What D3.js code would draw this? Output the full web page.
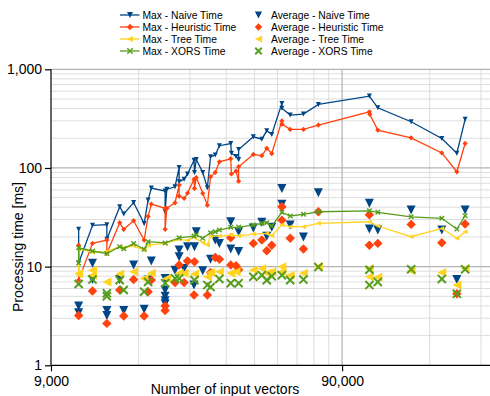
<!DOCTYPE html>
<html>
<head>
<meta charset="utf-8">
<script src="https://cdn.jsdelivr.net/npm/d3@7"></script>
<style>
body { margin: 0; background: #fff; }
text { font-family: "Liberation Sans", Arial, sans-serif; }
</style>
</head>
<body>
<script>
const W = 490, H = 396;
const margin = { top: 69.3, right: 0, bottom: 30.7, left: 51 };

const NAIVE = '#004586';
const HEUR = '#ff420e';
const TREE = '#ffd320';
const XORS = '#579d1c';

// [number of input vectors, processing time ms]
const maxNaive = [[11200,23.9],[11200,10.9],[12500,26.2],[14000,26.6],[14000,18.9],[15500,40.4],[16000,34.2],[17300,44.6],[18800,27.3],[19400,47.3],[19900,62.5],[22200,58.3],[22200,36],[22500,61],[24000,64.5],[24800,101],[24800,72.5],[25800,77],[26500,87],[27900,120],[28000,90],[28400,122],[29900,90],[31000,63],[31800,130],[33000,135],[34100,168],[37300,177],[37500,141],[38900,131],[39700,122],[39700,154],[44600,207],[47700,196],[49600,238],[51600,219],[55900,451],[55900,404],[59700,344],[66300,352],[74600,440],[111700,535],[119400,407],[155400,294],[198100,199],[223100,141],[238200,311]];
const maxHeur = [[11200,16.5],[11200,7.3],[12500,17.2],[14000,18.6],[14000,13.6],[15500,27.9],[16000,23.9],[17300,29.2],[18800,18.6],[19400,32.3],[19900,43.1],[22200,39],[22200,23.9],[22500,39],[24000,44.4],[24800,67.1],[24800,51.9],[25800,49.2],[26500,55.7],[27900,76.6],[28000,62],[28400,80],[29900,55.3],[31000,42],[31800,81.4],[33000,90],[34100,115.5],[37300,124],[37500,87],[38900,93],[39700,73.5],[39700,103],[44600,137],[47700,133],[49600,158],[51600,140],[55900,300],[55900,278],[59700,246],[66300,246],[74600,272],[111700,371],[112000,350],[119400,242],[155400,202],[198100,142],[223100,91.5],[238200,177]];
const maxTree = [[11200,8.2],[11200,15.1],[12500,14],[14000,14.2],[15500,15.9],[16000,15.5],[17300,16.2],[18800,14.7],[19400,16.5],[22200,17.2],[24800,18.9],[26500,18.5],[27900,19.8],[29900,17.5],[31000,16.6],[31800,20.4],[34100,20.4],[37300,20.9],[39700,20.5],[44600,21.4],[49600,21.7],[51600,20.6],[55900,26.6],[59700,25.4],[66300,25.4],[74600,27.5],[111700,28.5],[119400,25.8],[155400,20.1],[198100,24.4],[223100,19.4],[238200,22.6]];
const maxXors = [[11200,10.9],[11200,15.5],[12500,14.4],[14000,13.6],[15500,15.9],[16000,15.2],[17300,17.2],[18800,15],[19400,17.9],[22200,17.4],[24800,19.6],[27900,20.4],[28400,21],[29900,19.4],[31800,22.1],[33000,22.6],[34100,23.5],[37300,25],[39700,25.2],[44600,26.4],[47700,27.5],[49600,27.9],[51600,25.8],[55900,35.5],[59700,32.6],[66300,33.9],[74600,36],[111700,36.8],[119400,35.5],[155400,32],[198100,30.9],[223100,24],[238200,32.8]];

const avgNaive = [[11200,4.0],[11200,3.4],[12500,10.8],[12500,7.4],[14000,3.6],[14000,3.2],[15500,7.4],[16000,3.6],[17300,10.4],[18800,3.7],[19400,7.3],[19900,11.4],[22200,7.6],[22200,5.8],[22200,5.0],[22200,4.5],[22200,4.2],[24000,9.2],[24800,14.7],[24800,12.6],[25800,9.6],[26500,15.9],[27900,6.5],[28000,15.9],[28400,22.6],[29900,9.1],[31800,11.9],[33000,18.6],[34100,17.2],[37300,28.5],[37300,15.1],[39700,22.6],[39700,14.2],[44600,24.6],[47700,28.1],[49600,20.3],[51600,25],[55900,62],[55900,43],[59700,26.4],[66300,20],[74600,56],[111700,44],[111700,24],[119400,23.5],[155400,37.5],[198100,23.5],[223100,7.4],[238200,37.5]];
const avgHeur = [[11200,3.2],[12500,5.66],[14000,2.66],[15500,5.8],[16000,3.16],[17300,7.4],[18800,3.16],[19400,5.57],[19900,7.3],[22200,4.0],[22200,3.6],[24000,6.9],[24800,10.4],[25800,6.9],[26500,11.4],[27900,5.16],[28000,11.2],[31000,5.16],[31800,8.7],[33000,12.4],[34100,11.9],[37300,19.6],[37300,10.4],[38900,10.2],[39700,9.3],[44600,17.2],[47700,18.6],[49600,14.5],[51600,16.5],[55900,40.4],[55900,29.6],[59700,19.35],[66300,15.1],[74600,36],[111700,33.5],[111700,16.5],[119400,17.2],[155400,26.8],[198100,17.5],[223100,5.3],[238200,27]];
const avgTree = [[11200,8.5],[12500,9.2],[12500,8.2],[14000,7.0],[15500,8.4],[17300,8.9],[18800,7.6],[19900,8.55],[22450,7.6],[24800,8.55],[25800,8.55],[28000,8.4],[31000,7.9],[31800,8.7],[34100,8.9],[37300,8.55],[38900,8.9],[44600,9.24],[47700,9.6],[49600,8.55],[51600,8.9],[55900,10],[55900,8.9],[59700,8.2],[66300,8.55],[74600,10],[111700,9.6],[111700,7.9],[119400,7.8],[155400,9.1],[198100,8.7],[223100,6.5],[238200,9.6]];
const avgXors = [[11200,6.67],[12500,7.4],[14000,5.36],[14000,5.0],[15500,7.3],[16000,5.8],[18800,5.57],[19400,7.0],[22200,6.8],[24000,7.6],[24800,7.6],[28000,7.3],[31000,6.5],[31800,6.2],[34100,7.5],[37300,6.8],[39700,6.8],[44600,7.9],[47700,8.2],[49600,7.3],[51600,8.0],[55900,8.2],[59700,7.3],[66300,7.4],[74600,9.9],[111700,9.3],[111700,6.5],[119400,7.0],[155400,9.4],[198100,7.5],[223100,5.3],[238200,9.4]];

const yTicks = [1, 10, 100, 1000];
const xTicks = [9000, 90000];
const xTitle = 'Number of input vectors';
const yTitle = 'Processing time [ms]';

const shapes = {
	down: s => `M${-s},${-s}L${s},${-s}L0,${s}Z`,
	diamond: s => `M0,${-s}L${s},0L0,${s}L${-s},0Z`,
	left: s => `M${s},${-s}L${s},${s}L${-s},0Z`,
	cross: s => `M${-s},${-s}L${s},${s}M${s},${-s}L${-s},${s}`
};

// drawing order follows the legend (row by row)
const series = [
	{ name: 'Max - Naive Time', data: maxNaive, color: NAIVE, shape: 'down', line: true },
	{ name: 'Average - Naive Time', data: avgNaive, color: NAIVE, shape: 'down', line: false },
	{ name: 'Max - Heuristic Time', data: maxHeur, color: HEUR, shape: 'diamond', line: true },
	{ name: 'Average - Heuristic Time', data: avgHeur, color: HEUR, shape: 'diamond', line: false },
	{ name: 'Max - Tree Time', data: maxTree, color: TREE, shape: 'left', line: true },
	{ name: 'Average - Tree Time', data: avgTree, color: TREE, shape: 'left', line: false },
	{ name: 'Max - XORS Time', data: maxXors, color: XORS, shape: 'cross', line: true },
	{ name: 'Average - XORS Time', data: avgXors, color: XORS, shape: 'cross', line: false }
];

const svg = d3.select('body').append('svg')
	.attr('width', W)
	.attr('height', H);

const x = d3.scaleLog().domain([9000, 290000]).range([margin.left, W - margin.right]);
const y = d3.scaleLog().domain([1, 1000]).range([H - margin.bottom, margin.top]);

//#region grid
const xMinor = [], yMinor = [];
[9000, 90000].forEach(b => d3.range(2, 10).forEach(k => { if (b * k <= 290000) xMinor.push(b * k); }));
[1, 10, 100].forEach(b => d3.range(2, 10).forEach(k => yMinor.push(b * k)));

const grid = svg.append('g').attr('class', 'grid');
grid.selectAll('line.ymin').data(yMinor).enter().append('line')
	.attr('x1', margin.left).attr('x2', W - margin.right)
	.attr('y1', d => y(d)).attr('y2', d => y(d))
	.attr('stroke', '#dddddd').attr('stroke-width', 1);
grid.selectAll('line.xmin').data(xMinor).enter().append('line')
	.attr('x1', d => x(d)).attr('x2', d => x(d))
	.attr('y1', margin.top).attr('y2', H - margin.bottom)
	.attr('stroke', '#dddddd').attr('stroke-width', 1);
grid.selectAll('line.ymaj').data([10, 100, 1000]).enter().append('line')
	.attr('x1', margin.left).attr('x2', W - margin.right)
	.attr('y1', d => y(d)).attr('y2', d => y(d))
	.attr('stroke', '#b3b3b3').attr('stroke-width', 1.2);
grid.selectAll('line.xmaj').data([90000]).enter().append('line')
	.attr('x1', d => x(d)).attr('x2', d => x(d))
	.attr('y1', margin.top).attr('y2', H - margin.bottom)
	.attr('stroke', '#b3b3b3').attr('stroke-width', 1.2);
//#endregion

//#region axes
const yAxis = svg.append('g')
	.attr('transform', `translate(${margin.left},0)`)
	.call(d3.axisLeft(y).tickValues(yTicks).tickFormat(d3.format(',')).tickSize(6).tickPadding(3));
const xAxis = svg.append('g')
	.attr('transform', `translate(0,${H - margin.bottom})`)
	.call(d3.axisBottom(x).tickValues(xTicks).tickFormat(d3.format(',')).tickSize(6).tickPadding(5));
[xAxis, yAxis].forEach(a => {
	a.select('.domain').attr('stroke', '#000').attr('stroke-width', 1.2);
	a.selectAll('.tick line').attr('stroke', '#000').attr('stroke-width', 1.2);
	a.selectAll('.tick text').attr('font-size', 14).attr('fill', '#000')
		.style('font-family', '"Liberation Sans", Arial, sans-serif');
});
// remove outer ticks of the domain path
yAxis.select('.domain').attr('d', `M0,${margin.top}V${H - margin.bottom}`);
xAxis.select('.domain').attr('d', `M${margin.left},0H${W - margin.right}`);

svg.append('text')
	.attr('x', 225).attr('y', 393.5)
	.attr('text-anchor', 'middle')
	.attr('font-size', 14)
	.text(xTitle);
svg.append('text')
	.attr('transform', 'translate(22.5,247) rotate(-90)')
	.attr('text-anchor', 'middle')
	.attr('font-size', 14)
	.text(yTitle);
//#endregion

//#region series
const line = d3.line().x(d => x(d[0])).y(d => y(d[1]));

function drawMarks(g, s, pts, size) {
	const cross = s.shape === 'cross';
	const sz = s.shape === 'diamond' ? size * 1.05 : (cross ? size * 0.9 : size);
	g.selectAll('path.mark').data(pts).enter().append('path')
		.attr('class', 'mark')
		.attr('transform', d => `translate(${d[0]},${d[1]})`)
		.attr('d', shapes[s.shape](sz))
		.attr('fill', cross ? 'none' : s.color)
		.attr('stroke', cross ? s.color : 'none')
		.attr('stroke-width', cross ? (size > 3 ? 2 : 1.4) : 0);
}

series.forEach(s => {
	const g = svg.append('g').attr('class', 'series');
	const pts = s.data.map(d => [x(d[0]), y(d[1])]);
	if (s.line) {
		g.append('path')
			.attr('d', line(s.data))
			.attr('fill', 'none')
			.attr('stroke', s.color)
			.attr('stroke-width', 1.3);
		drawMarks(g, s, pts, 2.5);
	} else {
		drawMarks(g, s, pts, 4.5);
	}
});
//#endregion

//#region legend
const legend = svg.append('g').attr('class', 'legend');
series.forEach((s, i) => {
	const col = i % 2, row = Math.floor(i / 2);
	const ly = 15 + row * 12;
	const g = legend.append('g');
	if (s.line) {
		g.append('line')
			.attr('x1', 120).attr('x2', 139.5)
			.attr('y1', ly).attr('y2', ly)
			.attr('stroke', s.color).attr('stroke-width', 1.3);
		drawMarks(g, s, [[130, ly]], 3);
		g.append('text').attr('x', 142.5).attr('y', ly + 3.7)
			.attr('font-size', 10.3).text(s.name);
	} else {
		drawMarks(g, s, [[258.5, ly]], 3.6);
		g.append('text').attr('x', 271).attr('y', ly + 3.7)
			.attr('font-size', 10.3).text(s.name);
	}
});
//#endregion
</script>
</body>
</html>
